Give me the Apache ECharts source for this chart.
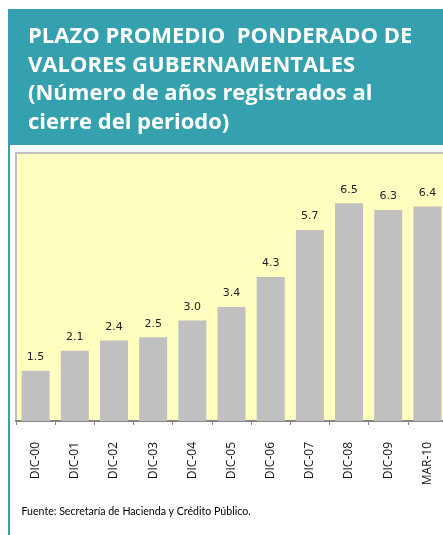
<!DOCTYPE html>
<html>
<head>
<meta charset="utf-8">
<script src="https://cdn.jsdelivr.net/npm/echarts@6/dist/echarts.min.js"></script>
<style>
html,body{margin:0;padding:0;background:#fff;}
#chart{width:443px;height:535px;}
</style>
</head>
<body>
<div id="chart"></div>
<script>
const categories = ["DIC-00","DIC-01","DIC-02","DIC-03","DIC-04","DIC-05","DIC-06","DIC-07","DIC-08","DIC-09","MAR-10"];
const values = [1.5, 2.1, 2.4, 2.5, 3.0, 3.4, 4.3, 5.7, 6.5, 6.3, 6.4];
const titleLines = ["PLAZO PROMEDIO  PONDERADO DE", "VALORES GUBERNAMENTALES", "(Número de años registrados al", "cierre del periodo)"];
const footer = "Fuente: Secretaría de Hacienda y Crédito Público.";

const chart = echarts.init(document.getElementById('chart'), null, {renderer: 'canvas'});
const teal = '#35A1AE';
chart.setOption({
  animation: false,
  backgroundColor: '#ffffff',
  graphic: [
    {type: 'rect', shape: {x: 8, y: 9, width: 435, height: 136}, style: {fill: teal}, z: 0},
    {type: 'rect', shape: {x: 8, y: 145, width: 2, height: 390}, style: {fill: teal}, z: 0},
    {type: 'text', x: 28, y: 22.5, style: {text: titleLines.join('\n'), fill: '#ffffff', font: 'bold 22px "Open Sans"', lineHeight: 28.5}, z: 5},
    {type: 'text', x: 21.5, y: 506, style: {text: footer, fill: '#000000', font: '10.6px "Lato"'}, z: 5}
  ],
  grid: {
    left: 16, top: 153, width: 431, height: 268,
    outerBoundsMode: 'none', containLabel: false,
    show: true, backgroundColor: '#FFFFC0', borderColor: '#C0C0C0', borderWidth: 2
  },
  xAxis: {
    type: 'category', data: categories,
    axisLine: {lineStyle: {color: '#868686', width: 2}},
    axisTick: {show: true, length: 4, lineStyle: {color: '#868686'}},
    axisLabel: {rotate: 90, margin: 21, fontFamily: 'Open Sans', fontSize: 12, color: '#111'}
  },
  yAxis: {type: 'value', min: 0, max: 8, show: false, splitLine: {show: false}},
  series: [{
    type: 'bar', data: values, barWidth: 28,
    itemStyle: {color: '#C0C0C0'},
    label: {show: true, position: 'top', distance: 8, formatter: p => p.value.toFixed(1), fontFamily: 'DejaVu Sans', fontSize: 11, color: '#222'}
  }]
});
</script>
</body>
</html>
